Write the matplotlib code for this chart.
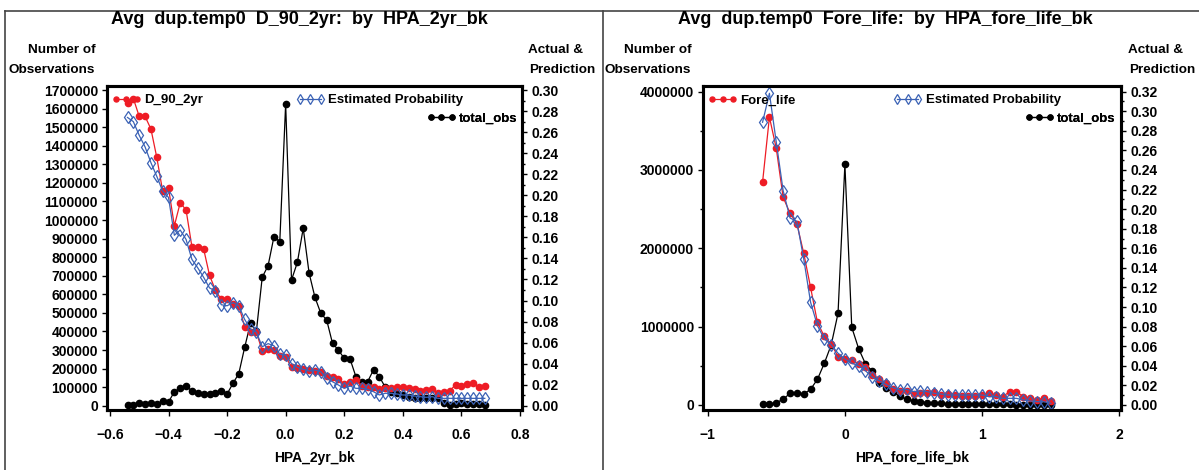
import matplotlib
matplotlib.use("Agg")
import matplotlib.pyplot as plt
from matplotlib.lines import Line2D
from matplotlib.ticker import MultipleLocator, FuncFormatter

plt.rcParams.update({
    "font.family": ["Liberation Sans", "DejaVu Sans"],
    "font.weight": "bold",
    "font.size": 10,
})

# ---- HPA_2yr_bk bins -------------------------------------------------------
hpa_2yr = [-0.54, -0.52, -0.50, -0.48, -0.46, -0.44, -0.42, -0.40, -0.38, -0.36,
           -0.34, -0.32, -0.30, -0.28, -0.26, -0.24, -0.22, -0.20, -0.18, -0.16,
           -0.14, -0.12, -0.10, -0.08, -0.06, -0.04, -0.02, 0.00, 0.02, 0.04,
           0.06, 0.08, 0.10, 0.12, 0.14, 0.16, 0.18, 0.20, 0.22, 0.24,
           0.26, 0.28, 0.30, 0.32, 0.34, 0.36, 0.38, 0.40, 0.42, 0.44,
           0.46, 0.48, 0.50, 0.52, 0.54, 0.56, 0.58, 0.60, 0.62, 0.64,
           0.66, 0.68]
obs_2yr = [3000, 4000, 12000, 9000, 12000, 9000, 23000, 20000, 75000, 95000,
           105000, 80000, 70000, 61000, 61000, 70000, 79000, 63000, 120000, 173000,
           314000, 444000, 400000, 692000, 754000, 910000, 884000, 1625000, 677000, 772000,
           956000, 715000, 584000, 498000, 462000, 336000, 300000, 255000, 251000, 156000,
           126000, 129000, 194000, 156000, 100000, 75000, 68000, 58000, 48000, 40000,
           40000, 39000, 39000, 39000, 16000, 4000, 7000, 13000, 7000, 7000,
           7000, 2000]
d90_2yr = [0.288, 0.292, 0.275, 0.275, 0.263, 0.236, 0.204, 0.207, 0.171, 0.193,
           0.186, 0.151, 0.151, 0.149, 0.124, 0.110, 0.101, 0.101, 0.097, 0.095,
           0.075, 0.070, 0.070, 0.052, 0.054, 0.053, 0.047, 0.046, 0.037, 0.0355,
           0.035, 0.034, 0.0333, 0.0323, 0.0285, 0.0276, 0.0251, 0.0206, 0.0228, 0.0244,
           0.0187, 0.018, 0.018, 0.0156, 0.0165, 0.0165, 0.0175, 0.018, 0.0165, 0.0156,
           0.0143, 0.0149, 0.0156, 0.0118, 0.0133, 0.0143, 0.0197, 0.0187, 0.0206, 0.0213,
           0.018, 0.0187]
est_2yr = [0.274, 0.270, 0.257, 0.246, 0.231, 0.218, 0.204, 0.198, 0.162, 0.167,
           0.158, 0.139, 0.131, 0.122, 0.112, 0.109, 0.096, 0.095, 0.098, 0.095,
           0.082, 0.073, 0.070, 0.056, 0.059, 0.057, 0.049, 0.0485, 0.040, 0.0365,
           0.0346, 0.033, 0.034, 0.0323, 0.026, 0.0228, 0.0197, 0.0165, 0.0187, 0.0165,
           0.0165, 0.0156, 0.0133, 0.0102, 0.0118, 0.0118, 0.0111, 0.0102, 0.0102, 0.0092,
           0.0086, 0.008, 0.0086, 0.007, 0.007, 0.007, 0.007, 0.007, 0.007, 0.007,
           0.007, 0.007]

# ---- HPA_fore_life_bk bins -------------------------------------------------
hpa_life = [-0.60, -0.55, -0.50, -0.45, -0.40, -0.35, -0.30, -0.25, -0.20, -0.15,
            -0.10, -0.05, 0.00, 0.05, 0.10, 0.15, 0.20, 0.25, 0.30, 0.35,
            0.40, 0.45, 0.50, 0.55, 0.60, 0.65, 0.70, 0.75, 0.80, 0.85,
            0.90, 0.95, 1.00, 1.05, 1.10, 1.15, 1.20, 1.25, 1.30, 1.35,
            1.40, 1.45, 1.50]
obs_life = [8000, 15000, 30000, 72000, 149000, 149000, 140000, 200000, 328000, 532000,
            766000, 1170000, 3072000, 992000, 720000, 525000, 430000, 277000, 213000, 160000,
            112000, 72000, 55000, 43000, 30000, 21000, 21000, 13000, 13000, 10000,
            9000, 9000, 8000, 8000, 7000, 7000, 7000, 6000, 6000, 6000,
            6000, 5000, 4000]
fore_life = [0.2275, 0.294, 0.262, 0.212, 0.196, 0.185, 0.155, 0.120, 0.0843, 0.070,
             0.0623, 0.0494, 0.0468, 0.0462, 0.0419, 0.0385, 0.031, 0.0264, 0.022, 0.0165,
             0.0138, 0.0138, 0.0112, 0.0126, 0.0126, 0.0136, 0.0102, 0.0112, 0.0102, 0.0092,
             0.0092, 0.0092, 0.0102, 0.012, 0.0102, 0.0085, 0.0136, 0.0136, 0.0085, 0.0068,
             0.0051, 0.0068, 0.0044]
est_life = [0.2887, 0.3183, 0.2683, 0.2189, 0.191, 0.1876, 0.1491, 0.1049, 0.081, 0.0674,
            0.0616, 0.0528, 0.047, 0.0426, 0.0402, 0.035, 0.0283, 0.0248, 0.021, 0.0177,
            0.0153, 0.016, 0.0136, 0.0143, 0.0136, 0.012, 0.0112, 0.0102, 0.0102, 0.0102,
            0.0102, 0.0102, 0.0102, 0.0085, 0.0085, 0.0068, 0.0068, 0.0068, 0.0051, 0.0041,
            0.0034, 0.0034, 0.0017]

W, H = 1199, 470
RED = "#ee1c25"
BLUE = "#3b62b5"

fig = plt.figure(figsize=(W / 100, H / 100), dpi=100)


def fx(px):
    return px / W


def fy(py):
    return 1 - py / H


def add_key(ax, handle, label, x, y):
    leg = ax.legend([handle], [label], loc="upper left", bbox_to_anchor=(x, y),
                    frameon=False, numpoints=3, handlelength=2.2, handletextpad=0.25,
                    borderpad=0, borderaxespad=0, fontsize=9.5, markerscale=0.8)
    ax.add_artist(leg)


def panel(left, right, x, obs, actual, est, actual_name, title, title_cx,
          xlabel, obs_max, obs_step, obs_minor, prob_max, xlim, xticks, xfmt,
          pad_lo, pad_hi, right_lab_x):
    top, bottom = 86, 410
    ax = fig.add_axes([fx(left), fy(bottom), fx(right - left), (bottom - top) / H])
    ax2 = ax.twinx()

    l_obs, = ax.plot(x, obs, color="black", marker="o", ms=4.5, lw=0.9)
    l_act, = ax2.plot(x, actual, color=RED, marker="o", ms=4.5, lw=0.9)
    l_est, = ax2.plot(x, est, color=BLUE, marker="d", ms=6, mfc="none", mew=0.9, lw=0.9)

    ax.set_xlim(*xlim)
    ax.set_xticks(xticks)
    ax.xaxis.set_major_formatter(FuncFormatter(lambda v, p: xfmt.format(v).replace("-", "\u2212")))
    ax.set_ylim(-pad_lo * obs_max, obs_max * (1 + pad_hi))
    ax2.set_ylim(-pad_lo * prob_max, prob_max * (1 + pad_hi))
    ax.yaxis.set_major_locator(MultipleLocator(obs_step))
    if obs_minor:
        ax.yaxis.set_minor_locator(MultipleLocator(obs_minor))
    ax.yaxis.set_major_formatter(FuncFormatter(lambda v, p: f"{int(round(v))}"))
    ax2.yaxis.set_major_locator(MultipleLocator(0.02))
    ax2.yaxis.set_minor_locator(MultipleLocator(0.01))
    ax2.yaxis.set_major_formatter(FuncFormatter(lambda v, p: f"{v:.2f}"))

    for a in (ax, ax2):
        for sp in a.spines.values():
            sp.set_linewidth(2.2)
    ax.tick_params(axis="y", direction="out", length=3.5, width=1, pad=3, labelsize=10)
    ax.tick_params(axis="y", which="minor", length=2, width=1)
    ax.tick_params(axis="x", direction="out", length=4, width=1, pad=9, labelsize=10)
    ax2.tick_params(axis="y", direction="out", length=3.5, width=1, pad=3, labelsize=10)
    ax2.tick_params(axis="y", which="minor", length=2, width=1)

    add_key(ax2, l_act, actual_name, 0.012, 0.975)
    add_key(ax2, l_est, "Estimated Probability", 0.455, 0.975)
    add_key(ax2, l_obs, "total_obs", 0.77, 0.918)

    fig.text(fx(title_cx), fy(19), title, ha="center", va="center", fontsize=13)
    cx = (left + right) / 2
    fig.text(fx(cx), fy(458), xlabel, ha="center", va="center", fontsize=10)
    fig.text(fx(left - 11), fy(50), "Number of", ha="right", va="center", fontsize=9.7)
    fig.text(fx(left - 12), fy(70), "Observations", ha="right", va="center", fontsize=9.7)
    fig.text(fx(right_lab_x), fy(50), "Actual &", ha="left", va="center", fontsize=9.7)
    fig.text(fx(right_lab_x + 1), fy(70), "Prediction", ha="left", va="center", fontsize=9.7)


panel(107, 522, hpa_2yr, obs_2yr, d90_2yr, est_2yr, "D_90_2yr",
      "Avg  dup.temp0  D_90_2yr:  by  HPA_2yr_bk", 299, "HPA_2yr_bk",
      1700000, 100000, None, 0.30, (-0.610, 0.807),
      [-0.6, -0.4, -0.2, 0.0, 0.2, 0.4, 0.6, 0.8], "{:.1f}",
      0.0136, 0.013, 528)

panel(703, 1121, hpa_life, obs_life, fore_life, est_life, "Fore_life",
      "Avg  dup.temp0  Fore_life:  by  HPA_fore_life_bk", 885, "HPA_fore_life_bk",
      4000000, 1000000, 500000, 0.32, (-1.034, 2.012),
      [-1, 0, 1, 2], "{:.0f}",
      0.016, 0.018, 1128)

# page frame and panel divider
fig.add_artist(Line2D([fx(5), 1], [fy(11), fy(11)], transform=fig.transFigure,
                      color="#444444", lw=1.2))
fig.add_artist(Line2D([fx(5), fx(5)], [fy(11), 0], transform=fig.transFigure,
                      color="#444444", lw=1.2))
fig.add_artist(Line2D([fx(603), fx(603)], [fy(11), 0], transform=fig.transFigure,
                      color="#444444", lw=1.2))

fig.savefig("out.png", dpi=100)
